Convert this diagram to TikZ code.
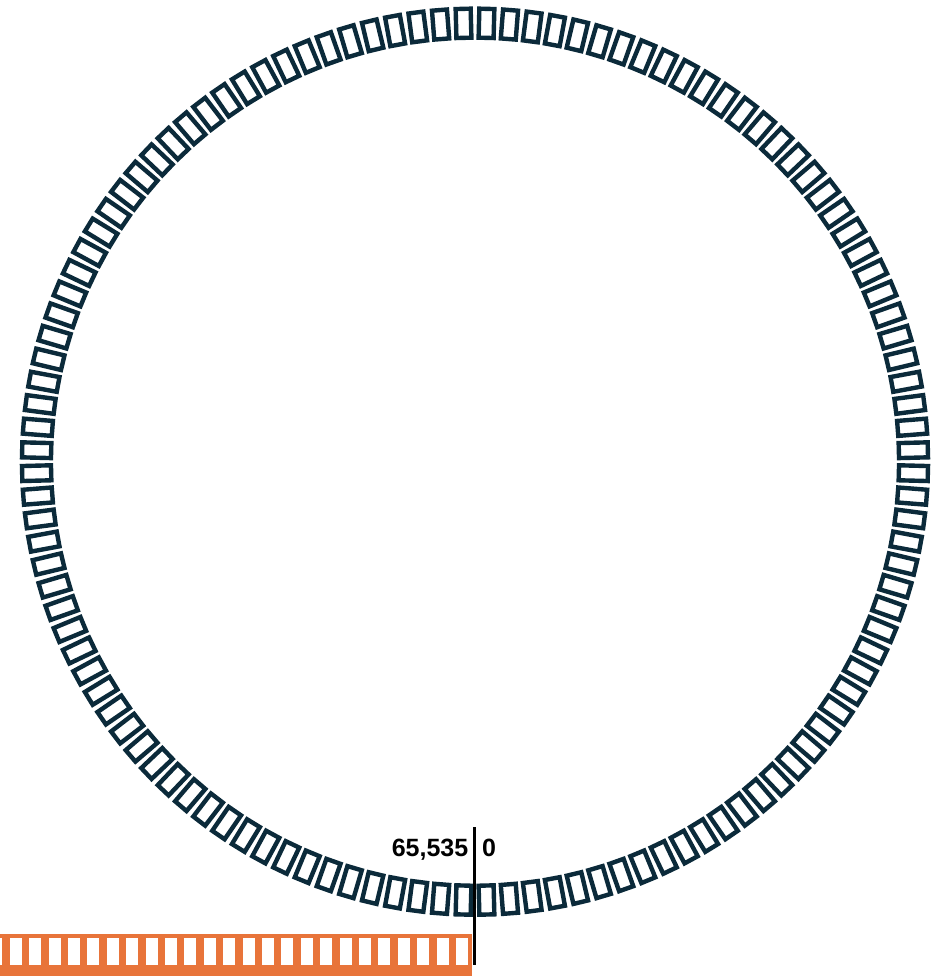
\documentclass[tikz,border=0pt]{standalone}
\usepackage{fontspec}
\setmainfont{Liberation Sans}
\usepackage{tikz}
\usetikzlibrary{positioning, calc}
\definecolor{ringnavy}{HTML}{0B2A3A}
\definecolor{stripfill}{HTML}{E8743A}
\definecolor{dark}{HTML}{000000}
\tikzset{
    ringcell/.style={
        rectangle, draw=ringnavy, fill=white, line width=4.4pt,
        minimum width=29pt, minimum height=15pt, inner sep=0pt
    },
    stripslot/.style={
        rectangle, fill=white, draw=none,
        minimum width=12pt, minimum height=27pt, inner sep=0pt
    },
    ticklab/.style={
        font=\bfseries\fontsize{25}{29}\selectfont, text=dark, inner sep=0pt
    },
    tickline/.style={
        line width=3pt, color=dark
    },
}

\begin{document}
\begin{tikzpicture}[x=1pt, y=1pt]
    \useasboundingbox (0,0) rectangle (935,976);

    % Ring of slots
    \coordinate (hub) at (475,514.3);
    \foreach \i in {0,...,119} {
        \pgfmathsetmacro{\ang}{-90+3*(\i+0.5)}
        \node[ringcell, rotate=\ang] (cell\i) at ($(hub)+(\ang:438.5)$) {};
    }

    % Linear strip
    \fill[stripfill] (0,0) rectangle (471.5,42) coordinate (stripend);
    \foreach \k in {0,...,24} {
        \node[stripslot] (slot\k) at (462-19.4*\k,24.5) {};
    }

    % Wrap point
    \coordinate (tickbot) at (474,11);
    \coordinate (ticktop) at (474,149);
    \draw[tickline] (tickbot) -- (ticktop);
    \node[ticklab, anchor=base east] (hilab) at (468.5,119) {65,535};
    \node[ticklab, anchor=base west] (lolab) at (482,119) {0};

\end{tikzpicture}
\end{document}
